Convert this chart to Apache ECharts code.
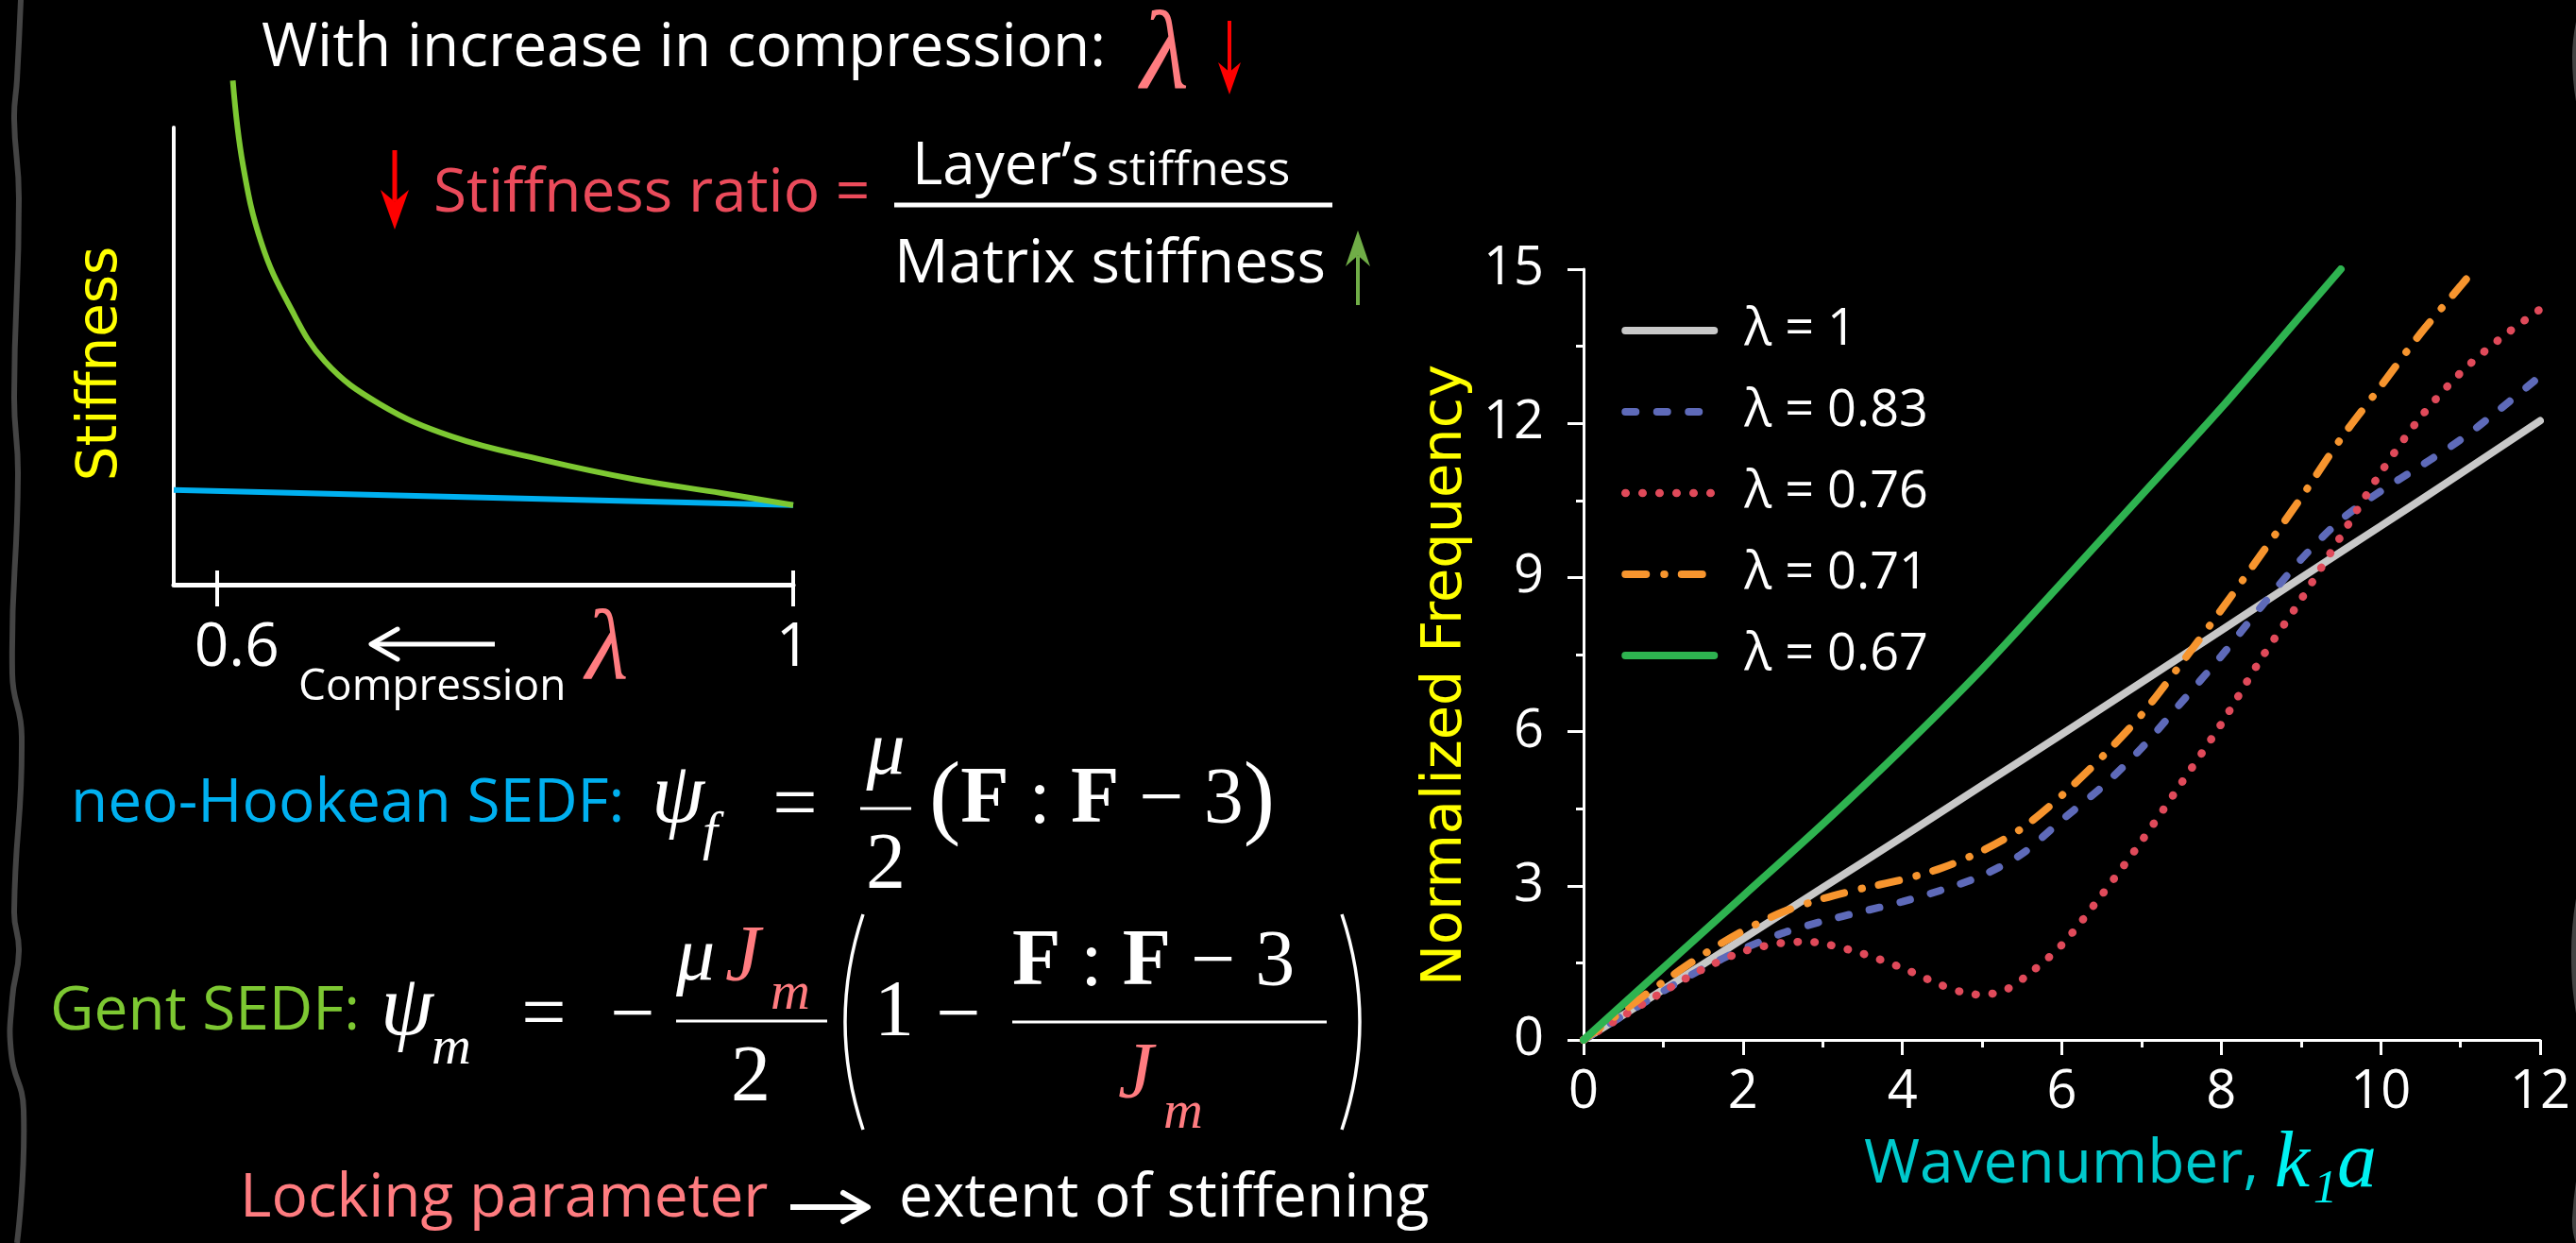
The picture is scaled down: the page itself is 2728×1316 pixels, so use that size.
<!DOCTYPE html>
<html>
<head>
<meta charset="utf-8">
<title>Dispersion under compression</title>
<script src="https://cdn.jsdelivr.net/npm/echarts@6/dist/echarts.min.js"></script>
<style>
  html, body { margin: 0; padding: 0; background: #000; }
  #chart { width: 2728px; height: 1316px; }
</style>
</head>
<body>
<div id="chart"></div>
<script>
// ---- values ----
const lambdaNames = ['λ = 1', 'λ = 0.83', 'λ = 0.76', 'λ = 0.71', 'λ = 0.67'];

const kGray = [0, 1, 2, 3, 4, 5, 6, 7, 8, 9, 10, 11, 12];
const fGray = [0, 0.98, 1.97, 2.96, 3.95, 4.95, 5.95, 6.96, 7.97, 8.99, 10.0, 11.02, 12.05];

const kBlue = [0, 0.5, 1, 1.5, 2, 2.5, 3, 3.5, 4, 4.5, 5, 5.5, 6, 6.5, 7, 7.5, 8, 8.5, 9, 9.5, 10, 10.5, 11, 11.5, 12];
const fBlue = [0, 0.48, 0.95, 1.39, 1.77, 2.08, 2.31, 2.5, 2.69, 2.92, 3.2, 3.62, 4.28, 4.92, 5.68, 6.57, 7.47, 8.43, 9.35, 10.12, 10.68, 11.17, 11.68, 12.28, 12.92];

const kRed = [0, 0.5, 1, 1.5, 2, 2.5, 2.8, 3, 3.5, 4, 4.5, 4.8, 5, 5.3, 5.6, 6, 6.5, 7, 7.5, 8, 8.5, 9, 9.5, 10, 10.5, 11, 11.5, 12];
const fRed = [0, 0.47, 0.94, 1.38, 1.72, 1.89, 1.91, 1.88, 1.68, 1.4, 1.06, 0.91, 0.88, 0.98, 1.3, 1.85, 2.82, 3.87, 5.0, 6.15, 7.42, 8.57, 9.8, 11.04, 12.12, 12.98, 13.65, 14.22];

const kOrange = [0, 0.5, 1, 1.5, 2, 2.5, 3, 3.5, 4, 4.5, 5, 5.5, 6, 6.5, 7, 7.5, 8, 8.5, 9, 9.5, 10, 10.5, 11, 11.15];
const fOrange = [0, 0.57, 1.13, 1.66, 2.12, 2.49, 2.75, 2.95, 3.12, 3.35, 3.68, 4.12, 4.76, 5.5, 6.33, 7.33, 8.37, 9.45, 10.55, 11.7, 12.72, 13.75, 14.67, 14.95];

const kGreen = [0, 1, 2, 3, 4, 5, 6, 7, 8, 9, 9.5];
const fGreen = [0, 1.4, 2.8, 4.2, 5.67, 7.22, 8.9, 10.6, 12.3, 14.1, 15];

// small stiffness sketch (arbitrary stiffness units)
const lamGent = [0.611, 0.618, 0.631, 0.65, 0.675, 0.713, 0.763, 0.826, 0.889, 0.951, 1.0];
const stiffGent = [11.03, 9.19, 7.46, 6.12, 4.88, 3.95, 3.24, 2.73, 2.31, 2.0, 1.74];
const lamNeo = [0.57, 1.0];
const stiffNeo = [2.07, 1.74];
const lamTicks = [0.6, 1];

const WHITE = '#FFFFFF';
const SALMON = '#FF7C80';
const SANS = 'Open Sans';
const SERIF = 'Liberation Serif';
const MID = { 'Open Sans': 0.388, 'Liberation Serif': 0.3375, 'DejaVu Sans': 0.346 };

function zip(xs, ys) { return xs.map((x, i) => [x, ys[i]]); }

// text placed by its baseline
function label(x, base, text, size, color, family, more) {
  family = family || SANS;
  return {
    type: 'text', x: x, y: base - MID[family] * size, silent: true,
    style: Object.assign({
      text: text, fill: color, fontSize: size, fontFamily: family,
      align: 'left', verticalAlign: 'middle'
    }, more || {})
  };
}
function mathLabel(x, base, text, size, color, more) {
  return label(x, base, text, size, color, SERIF, Object.assign({ fontStyle: 'italic' }, more || {}));
}
function bar(x1, x2, y, w) {
  return { type: 'line', silent: true, shape: { x1: x1, y1: y, x2: x2, y2: y }, style: { stroke: WHITE, lineWidth: w || 3 } };
}
// arrow with a dart head (filled) or open chevron head
function arrow(x1, y1, x2, y2, color, w, len, half, open) {
  const a = Math.atan2(y2 - y1, x2 - x1);
  const bx = x2 - len * Math.cos(a), by = y2 - len * Math.sin(a);
  const px = -Math.sin(a) * half, py = Math.cos(a) * half;
  const out = [];
  if (open) {
    out.push({ type: 'line', silent: true, shape: { x1: x1, y1: y1, x2: x2, y2: y2 }, style: { stroke: color, lineWidth: w } });
    out.push({ type: 'polyline', silent: true, shape: { points: [[bx + px, by + py], [x2, y2], [bx - px, by - py]] },
      style: { stroke: color, lineWidth: w, lineCap: 'round', lineJoin: 'round', fill: null } });
  } else {
    const nx = x2 - 0.7 * len * Math.cos(a), ny = y2 - 0.7 * len * Math.sin(a);
    out.push({ type: 'line', silent: true, shape: { x1: x1, y1: y1, x2: nx, y2: ny }, style: { stroke: color, lineWidth: w } });
    out.push({ type: 'polygon', silent: true, shape: { points: [[x2, y2], [bx + px, by + py], [nx, ny], [bx - px, by - py]] },
      style: { fill: color } });
  }
  return out;
}

const mathRich = {
  b: { fontFamily: SERIF, fontWeight: 'bold', fontSize: 84, fill: WHITE },
  r: { fontFamily: SERIF, fontSize: 84, fill: WHITE },
  p: { fontFamily: SERIF, fontSize: 100, fill: WHITE }
};

const graphics = [].concat(
  // decorative wavy borders
  [{ type: 'polyline', silent: true,
     shape: { smooth: 0.5, points: [[22, 0], [18, 84], [15, 126], [20, 210], [15, 420], [19, 503], [13, 713], [23, 780], [15, 965], [20, 1007], [13, 1057], [12, 1116], [25, 1175], [18, 1316]] },
     style: { stroke: '#444444', lineWidth: 6, fill: null } },
   { type: 'polyline', silent: true,
     shape: { smooth: 0.5, points: [[2737, 0], [2727, 60], [2737, 160], [2740, 500], [2736, 900], [2726, 1010], [2736, 1120], [2737, 1200], [2727, 1290], [2731, 1316]] },
     style: { stroke: '#444444', lineWidth: 6, fill: null } }],

  // headline
  [label(277, 77, 'With increase in compression:', 64, WHITE),
   mathLabel(1208, 102, 'λ', 118, SALMON)],
  arrow(1302, 22, 1302, 100, '#FF0000', 4, 34, 12),

  // stiffness ratio
  arrow(418, 159, 418, 243, '#FF0000', 5, 42, 15),
  [label(459, 231, 'Stiffness ratio =', 64, '#EB4B5B'),
   label(966, 201, 'Layer’s', 62, WHITE),
   label(1172, 201, 'stiffness', 50, WHITE),
   bar(947, 1411, 217, 5),
   label(947, 306, 'Matrix stiffness', 64, WHITE)],
  arrow(1438, 323, 1438, 244, '#70AD47', 4, 38, 13),

  // small sketch annotations
  [{ type: 'text', x: 108, y: 385, rotation: Math.PI / 2, silent: true,
     style: { text: 'Stiffness', fill: '#FFFF00', fontSize: 58, fontFamily: 'DejaVu Sans', align: 'center', verticalAlign: 'middle' } },
   label(316, 746, 'Compression', 46, WHITE),
   mathLabel(620, 726, 'λ', 105, SALMON)],
  arrow(524, 682, 393, 682, WHITE, 5, 28, 16, true),

  // neo-Hookean
  [label(75, 877, 'neo-Hookean SEDF:', 64, '#00B0F0'),
   mathLabel(690, 877, 'ψ', 90, WHITE),
   mathLabel(744, 903, 'f', 58, WHITE),
   label(842, 884, '=', 84, WHITE, SERIF, { align: 'center' }),
   mathLabel(938, 825, 'μ', 82, WHITE, { align: 'center' }),
   bar(911, 965, 856),
   label(938, 946, '2', 84, WHITE, SERIF, { align: 'center' }),
   { type: 'text', x: 984, y: 877 - 0.3375 * 84, silent: true,
     style: { text: '{p|(}{b|F}{r| : }{b|F}{r| − 3}{p|)}', rich: mathRich, align: 'left', verticalAlign: 'middle' } }],

  // Gent
  [label(53, 1097, 'Gent SEDF:', 64, '#7DC832'),
   mathLabel(403, 1102, 'ψ', 90, WHITE),
   mathLabel(457, 1130, 'm', 58, WHITE),
   label(576, 1106, '=', 84, WHITE, SERIF, { align: 'center' }),
   label(670, 1106, '−', 84, WHITE, SERIF, { align: 'center' }),
   mathLabel(716, 1043, 'μ', 82, WHITE),
   mathLabel(768, 1044, 'J', 84, SALMON),
   mathLabel(816, 1072, 'm', 58, SALMON),
   bar(716, 876, 1081),
   label(795, 1171, '2', 84, WHITE, SERIF, { align: 'center' }),
   { type: 'bezierCurve', silent: true, shape: { x1: 914, y1: 968, x2: 914, y2: 1196, cpx1: 876, cpy1: 1082 }, style: { stroke: WHITE, lineWidth: 3.5, fill: null } },
   label(926, 1102, '1', 84, WHITE, SERIF),
   label(1015, 1106, '−', 84, WHITE, SERIF, { align: 'center' }),
   { type: 'text', x: 1072, y: 1049 - 0.3375 * 84, silent: true,
     style: { text: '{b|F}{r| : }{b|F}{r| − 3}', rich: mathRich, align: 'left', verticalAlign: 'middle' } },
   bar(1072, 1405, 1082),
   mathLabel(1184, 1168, 'J', 84, SALMON),
   mathLabel(1232, 1198, 'm', 58, SALMON),
   { type: 'bezierCurve', silent: true, shape: { x1: 1421, y1: 968, x2: 1421, y2: 1196, cpx1: 1459, cpy1: 1082 }, style: { stroke: WHITE, lineWidth: 3.5, fill: null } }],

  // locking parameter
  [label(254, 1295, 'Locking parameter', 64, SALMON),
   label(952, 1295, 'extent of stiffening', 64, WHITE)],
  arrow(837, 1278, 919, 1278, WHITE, 6, 26, 15, true)
);

function curve(name, ks, fs, color, width, dash) {
  return {
    name: name, type: 'line', xAxisIndex: 0, yAxisIndex: 0,
    data: zip(ks, fs), symbol: 'none', smooth: 0.3,
    lineStyle: { color: color, width: width, type: dash || 'solid', cap: 'round' },
    itemStyle: { color: color }
  };
}

const axisText = { color: WHITE, fontFamily: SANS, fontSize: 56 };
const whiteLine = (w) => ({ color: WHITE, width: w });

const option = {
  backgroundColor: '#000000',
  animation: false,
  textStyle: { fontFamily: SANS },
  grid: [
    { left: 1677, right: 38, top: 285, bottom: 215 },
    { left: 184, top: 135, width: 656, height: 484 }
  ],
  legend: {
    data: lambdaNames, orient: 'vertical', left: 1712, top: 315,
    itemWidth: 94, itemHeight: 20, itemGap: 26,
    textStyle: { color: WHITE, fontSize: 54, fontFamily: SANS, lineHeight: 60, padding: [0, 0, 0, 27] },
    lineStyle: { width: 'inherit' },
    itemStyle: { opacity: 0 }
  },
  xAxis: [
    {
      gridIndex: 0, type: 'value', min: 0, max: 12, interval: 2,
      axisLine: { lineStyle: whiteLine(3) },
      axisTick: { length: 16, lineStyle: whiteLine(3) },
      minorTick: { show: true, splitNumber: 2, length: 8, lineStyle: whiteLine(3) },
      splitLine: { show: false },
      axisLabel: Object.assign({ margin: 28 }, axisText),
      name: '{w|Wavenumber, }{m|k₁a}', nameLocation: 'middle', nameGap: 83,
      nameTextStyle: {
        padding: [0, 0, 0, 124],
        rich: {
          w: { fontFamily: SANS, fontSize: 64, color: '#00C9CC', lineHeight: 100 },
          m: { fontFamily: SERIF, fontStyle: 'italic', fontSize: 84, color: '#00F2F2', lineHeight: 100 }
        }
      }
    },
    {
      gridIndex: 1, type: 'value', min: 0.57, max: 1, position: 'bottom',
      axisLine: { lineStyle: whiteLine(5) },
      axisTick: { customValues: lamTicks, length: 23, lineStyle: whiteLine(4) },
      splitLine: { show: false },
      axisLabel: {
        customValues: lamTicks, margin: 36,
        formatter: (v) => v === 1 ? '{b|1}' : '{a|' + v + '}',
        rich: {
          a: { color: WHITE, fontFamily: SANS, fontSize: 64, padding: [0, 0, 0, 42] },
          b: { color: WHITE, fontFamily: SANS, fontSize: 64 }
        }
      }
    },
    {
      gridIndex: 1, type: 'value', min: 0.57, max: 1, position: 'bottom', offset: 0,
      axisLine: { show: false },
      axisTick: { customValues: lamTicks, inside: true, length: 15, lineStyle: whiteLine(4) },
      splitLine: { show: false },
      axisLabel: { show: false }
    }
  ],
  yAxis: [
    {
      gridIndex: 0, type: 'value', min: 0, max: 15, interval: 3,
      axisLine: { show: true, lineStyle: whiteLine(3) },
      axisTick: { show: true, length: 17, lineStyle: whiteLine(3) },
      minorTick: { show: true, splitNumber: 2, length: 8, lineStyle: whiteLine(3) },
      splitLine: { show: false },
      axisLabel: Object.assign({ margin: 42 }, axisText),
      name: 'Normalized Frequency', nameLocation: 'middle', nameGap: 116,
      nameTextStyle: { color: '#FFFF00', fontFamily: 'DejaVu Sans', fontSize: 59, padding: [0, 44, 0, 0] }
    },
    {
      gridIndex: 1, type: 'value', min: 0, max: 10,
      axisLine: { show: true, lineStyle: whiteLine(4) },
      axisTick: { show: false }, axisLabel: { show: false }, splitLine: { show: false }
    }
  ],
  series: [
    curve(lambdaNames[0], kGray, fGray, '#C8C8C8', 8),
    curve(lambdaNames[1], kBlue, fBlue, '#5E6AB9', 8, [11, 22.5]),
    curve(lambdaNames[2], kRed, fRed, '#E04A5A', 8.5, [0.5, 17.5]),
    curve(lambdaNames[3], kOrange, fOrange, '#F7952E', 8, [22, 19, 0.5, 18]),
    curve(lambdaNames[4], kGreen, fGreen, '#2EB350', 8),
    {
      name: 'neo-Hookean', type: 'line', xAxisIndex: 1, yAxisIndex: 1,
      data: zip(lamNeo, stiffNeo), symbol: 'none', clip: false,
      lineStyle: { color: '#00B0F0', width: 6 }
    },
    {
      name: 'Gent', type: 'line', xAxisIndex: 1, yAxisIndex: 1,
      data: zip(lamGent, stiffGent), symbol: 'none', smooth: 0.4, clip: false,
      lineStyle: { color: '#7DC832', width: 6 }
    }
  ],
  graphic: { elements: graphics }
};

const chart = echarts.init(document.getElementById('chart'));
chart.setOption(option);
window.addEventListener('resize', function () { chart.resize(); });
</script>
</body>
</html>
